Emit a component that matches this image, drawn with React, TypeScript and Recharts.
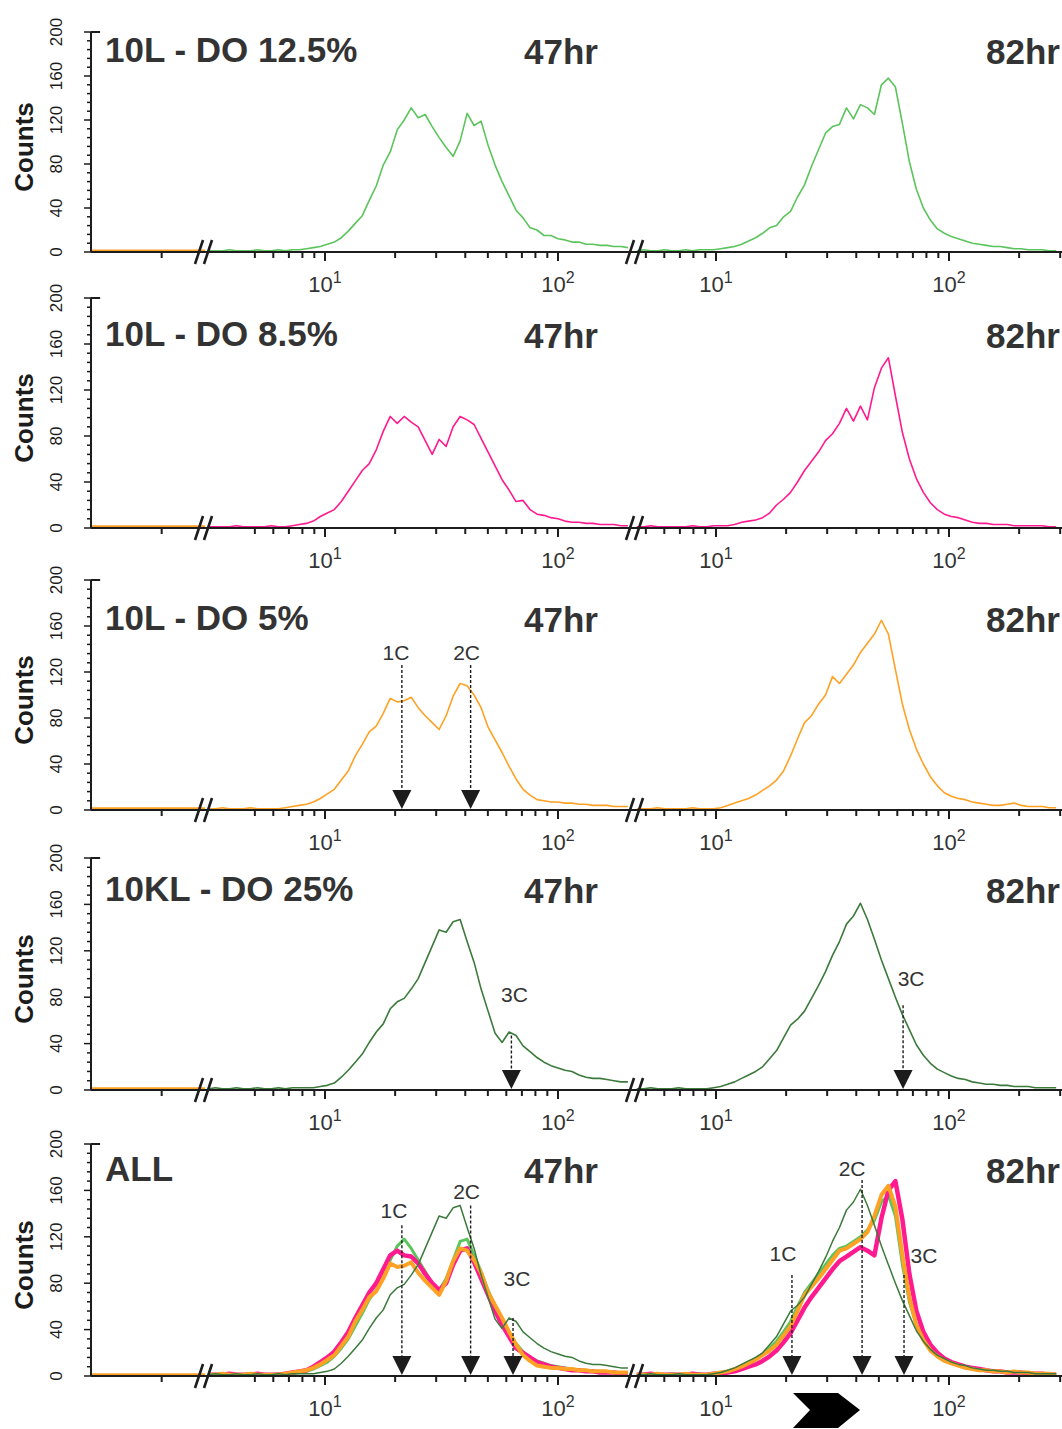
import React from 'react';
import { LineChart, Line, XAxis, YAxis, ReferenceLine, ReferenceDot } from 'recharts';

// ---------- data (x in log10 fluorescence units) ----------
const midGrid = [0.50,0.53,0.56,0.59,0.62,0.65,0.68,0.71,0.74,0.77,0.80,0.83,0.86,0.89,0.92,0.95,0.98,1.01,1.04,1.07,1.10,1.13,1.16,1.19,1.22,1.25,1.28,1.31,1.34,1.37,1.40,1.43,1.46,1.49,1.52,1.55,1.58,1.61,1.64,1.67,1.70,1.73,1.76,1.79,1.82,1.85,1.88,1.91,1.94,1.97,2.00,2.03,2.06,2.09,2.12,2.15,2.18,2.21,2.24,2.27,2.30];
const rightGrid = [0.66,0.69,0.72,0.75,0.78,0.81,0.84,0.87,0.90,0.93,0.96,0.99,1.02,1.05,1.08,1.11,1.14,1.17,1.20,1.23,1.26,1.29,1.32,1.35,1.38,1.41,1.44,1.47,1.50,1.53,1.56,1.59,1.62,1.65,1.68,1.71,1.74,1.77,1.80,1.83,1.86,1.89,1.92,1.95,1.98,2.01,2.04,2.07,2.10,2.13,2.16,2.19,2.22,2.25,2.28,2.31,2.34,2.37,2.40,2.43,2.46];

// 10L - DO 12.5% (light green)
const do125_47 = [1,1,1,2,1,1,1,2,1,1,2,1, 2,2,3,4,5,7,9,13,19,26, 33,47,60,79,91,111,120,131,122,125, 114,104,95,87,101,126,115,119,97,79, 64,51,38,31,22,20,15,15,12,11, 9,9,7,7,6,6,5,5,4];
const do125_82 = [1,2,1,1,2,1,1,2,1, 2,2,2,3,4,5,7,10,13,17, 22,24,32,37,50,61,78,93,108,114, 116,131,121,134,131,125,152,158,150,117, 82,57,40,29,21,17,14,12,10,8, 7,6,5,5,4,3,3,2,2,2,1,1];
// 10L - DO 8.5% (pink)
const do85_47 = [1,1,1,1,2,1,1,1,1,2,1,1, 2,3,4,6,10,13,16,23,32,41, 50,56,68,84,97,91,97,92,88,76, 64,77,71,88,97,94,90,78,66,54, 42,33,23,24,16,12,11,9,8,6, 5,5,4,4,3,3,3,2,2];
const do85_82 = [1,1,2,1,1,1,1,1,2,1,1,2, 2,2,3,5,6,7,9,13,20,25, 31,40,50,58,66,76,82,91,104,93, 106,94,122,139,148,115,83,60,43,31, 22,16,12,10,9,7,5,4,4,3, 3,3,2,2,2,2,2,1,1];
// 10L - DO 5% (orange)
const do5_47 = [1,1,2,1,1,1,2,1,1,1,1, 2,3,4,5,7,10,14,18,26,34, 47,57,68,73,84,97,94,95,98,89, 82,76,70,82,99,110,108,100,89,72, 61,50,38,27,18,13,9,8,7,7, 6,6,5,5,4,4,4,3,3,3];
const do5_82 = [1,1,1,2,1,1,1,1,2,1,1,1, 2,4,6,8,10,13,17,21,26,34, 47,62,76,82,92,100,116,110,118,126, 137,145,153,165,153,122,92,70,53,40, 29,21,15,12,10,9,7,6,5,4, 4,5,6,4,3,3,3,2,2];
// 10KL - DO 25% (dark green)
const kl25_47 = [1,2,1,1,2,1,1,2,1,1,2,1,2,2, 2,2,3,4,6,11,17,24, 31,41,50,57,70,76,79,87,96,110, 124,138,136,145,147,128,110,87,68,49, 41,50,47,38,33,28,24,21,19,17, 16,13,11,10,10,9,8,7,7];
const kl25_82 = [1,1,2,1,1,1,2,1,1,1,1, 2,3,5,7,10,13,16,20,27,34, 45,56,61,68,79,90,102,116,128,143, 150,161,147,130,112,96,80,65,52,39, 30,23,18,15,12,10,9,7,6,5, 5,4,4,3,3,3,2,2,2,2];

// "ALL" overlay panel: curves as drawn there
const allLight_47 = [1,1,2,1,1,1,1,2,1,1,2,1, 2,3,4,6,9,12,17,24,32,43, 54,66,74,88,100,112,118,110,100,90, 80,74,84,100,116,118,104,90,74,60, 48,38,28,21,16,13,11,9,8,7, 6,5,5,4,4,3,3,3,2];
const allLight_82 = [1,2,1,1,1,2,1,1,1,2,1,1, 3,4,6,9,12,15,19,24,30,38, 47,60,72,80,88,96,104,110,112,116, 120,126,134,150,156,138,96,64,44,32, 24,18,14,11,9,8,7,6,5,4, 4,3,3,3,2,2,2,2,1];
const allPink_47 = [1,1,1,2,1,1,1,2,1,1,1,2, 3,4,5,8,12,16,21,29,38,50, 61,72,80,92,104,108,104,103,97,88, 80,74,80,96,108,110,98,84,70,56, 44,34,24,20,16,12,10,8,7,6, 5,5,4,4,3,3,3,2,2];
const allPink_82 = [1,1,2,1,1,1,1,1,2,1,1,2, 2,3,4,6,8,10,13,17,22,29, 37,48,59,68,76,84,92,99,103,107, 111,108,104,136,160,168,135,88,56,38, 27,20,15,12,10,8,7,6,5,4, 4,3,3,3,2,2,2,1,1];
const allOrange_82 = [1,1,1,2,1,1,1,2,1,1,1,2, 3,4,6,8,11,14,18,22,27,35, 43,56,70,77,84,92,100,108,110,114, 118,124,138,156,164,146,104,68,44,31, 22,17,13,11,9,7,6,5,5,4, 4,3,4,3,3,2,2,2,1];

// left (off-scale) segment: flat zero bins
const leftX = [0, 1];
const leftY = [1, 1];

const yTicks = [0,8,16,24,32,40,48,56,64,72,80,88,96,104,112,120,128,136,144,152,160,168,176,184,192,200];
const midTickValues = [5,6,7,8,9,10,20,30,40,50,60,70,80,90,100];
const rightTickValues = [5,6,7,8,9,10,20,30,40,50,60,70,80,90,100,200,300];

// ---------- styling / layout ----------
const FONT = '"Liberation Sans", Arial, Helvetica, sans-serif';
const INK = '#1c1c1c';
const TXT = '#333333';
const C_LIGHT = '#5cc45c';
const C_PINK = '#ff1a8f';
const C_ORANGE = '#ffa124';
const C_DARK = '#3c7a3c';

const MT = 30;
const XH = 46;
const SEG_A = { left: 0, width: 205 };
const SEG_B = { left: 205, width: 430, domain: [0.485, 2.3305] as [number, number] };
const SEG_C = { left: 635, width: 427, domain: [0.6524, 2.485] as [number, number] };

type Seg = 'mid' | 'right';
type Mark = { seg: Seg; x: number; label: string; labelY: number; lineTop: number; dx: number };
type SeriesDef = { key: string; mid: number[]; right: number[]; color: string; width: number };
type PanelDef = { title: string; top: number; base: number; titleBase: number; series: SeriesDef[]; marks: Mark[] };

const panels: PanelDef[] = [
  { title: '10L - DO 12.5%', top: 32, base: 252, titleBase: 62,
    series: [{ key: 'light', mid: do125_47, right: do125_82, color: C_LIGHT, width: 1.6 }], marks: [] },
  { title: '10L - DO 8.5%', top: 298, base: 528, titleBase: 346,
    series: [{ key: 'pink', mid: do85_47, right: do85_82, color: C_PINK, width: 1.6 }], marks: [] },
  {
    title: '10L - DO 5%', top: 580, base: 810, titleBase: 630,
    series: [{ key: 'orange', mid: do5_47, right: do5_82, color: C_ORANGE, width: 1.6 }],
    marks: [
      { seg: 'mid', x: 1.33, label: '1C', labelY: 137, lineTop: 126, dx: -6 },
      { seg: 'mid', x: 1.625, label: '2C', labelY: 137, lineTop: 126, dx: -4 },
    ],
  },
  {
    title: '10KL - DO 25%', top: 858, base: 1090, titleBase: 901,
    series: [{ key: 'dark', mid: kl25_47, right: kl25_82, color: C_DARK, width: 1.6 }],
    marks: [
      { seg: 'mid', x: 1.80, label: '3C', labelY: 82, lineTop: 47, dx: 3 },
      { seg: 'right', x: 1.803, label: '3C', labelY: 96, lineTop: 73, dx: 8 },
    ],
  },
  {
    title: 'ALL', top: 1144, base: 1376, titleBase: 1181,
    series: [
      { key: 'light', mid: allLight_47, right: allLight_82, color: C_LIGHT, width: 3 },
      { key: 'pink', mid: allPink_47, right: allPink_82, color: C_PINK, width: 4.5 },
      { key: 'orange', mid: do5_47, right: allOrange_82, color: C_ORANGE, width: 4 },
      { key: 'dark', mid: kl25_47, right: kl25_82, color: C_DARK, width: 1.5 },
    ],
    marks: [
      { seg: 'mid', x: 1.33, label: '1C', labelY: 143, lineTop: 130, dx: -8 },
      { seg: 'mid', x: 1.625, label: '2C', labelY: 159, lineTop: 147, dx: -4 },
      { seg: 'mid', x: 1.807, label: '3C', labelY: 84, lineTop: 50, dx: 4 },
      { seg: 'right', x: 1.326, label: '1C', labelY: 106, lineTop: 87, dx: -9 },
      { seg: 'right', x: 1.627, label: '2C', labelY: 179, lineTop: 169, dx: -10 },
      { seg: 'right', x: 1.807, label: '3C', labelY: 104, lineTop: 87, dx: 20 },
    ],
  },
];

// ---------- ticks ----------
const renderXTick = (props: any) => {
  const { x, y, payload } = props;
  const v = Math.round(Math.pow(10, payload.value));
  const major = v === 10 || v === 100;
  return (
    <g>
      <line x1={x} x2={x} y1={y} y2={y + (major ? 9 : 6)} stroke={INK} strokeWidth={2} />
      {major && (
        <text x={x} y={y + 40} textAnchor="middle" fontFamily={FONT} fontSize={22} fill={TXT}>
          10<tspan fontSize={16} dy={-9}>{v === 10 ? '1' : '2'}</tspan>
        </text>
      )}
    </g>
  );
};

const renderPlainTick = (props: any) => {
  const { x, y } = props;
  return <line x1={x} x2={x} y1={y} y2={y + 6} stroke={INK} strokeWidth={2} />;
};

const renderYTick = (props: any) => {
  const { x, y, payload } = props;
  const v = payload.value;
  const major = v % 40 === 0;
  return (
    <g>
      <line x1={x - (major ? 7 : 4)} x2={x} y1={y} y2={y} stroke={INK} strokeWidth={1.5} />
      {major && (
        <text transform={`translate(${x - 29},${y}) rotate(-90)`} textAnchor="middle" fontFamily={FONT} fontSize={17} fill={INK}>
          {v}
        </text>
      )}
    </g>
  );
};

const arrowHead = (p: any) => (
  <path d={`M${p.cx - 9.5},${p.cy - 20} L${p.cx + 9.5},${p.cy - 20} L${p.cx},${p.cy - 1} Z`} fill={INK} />
);
const markLabel = (text: string, dx: number) => (p: any) => (
  <text x={p.cx + dx} y={p.cy} textAnchor="middle" dominantBaseline="central" fontFamily={FONT} fontSize={21} fill={TXT}>
    {text}
  </text>
);

// ---------- segments ----------
function LeftSegment({ panel }: { panel: PanelDef }) {
  const height = MT + (panel.base - panel.top) + XH;
  const rows = leftX.map((x, i) => ({ x, y: leftY[i] }));
  return (
    <div style={{ position: 'absolute', left: SEG_A.left, top: panel.top - MT, width: SEG_A.width, height }}>
      <LineChart width={SEG_A.width} height={height} data={rows} margin={{ top: MT, right: 0, bottom: 0, left: 0 }}>
        <XAxis dataKey="x" type="number" domain={[0, 1]} ticks={[0.62]} interval={0} tickSize={0} tickMargin={0}
          tickLine={false} tick={renderPlainTick} axisLine={{ stroke: INK, strokeWidth: 2 }} height={XH} />
        <YAxis width={91} domain={[0, 200]} ticks={yTicks} interval={0} tickSize={0} tickMargin={0}
          tickLine={false} tick={renderYTick} axisLine={{ stroke: INK, strokeWidth: 2 }} />
        <ReferenceLine segment={[{ x: 0, y: 200 }, { x: 0.08, y: 200 }]} stroke={INK} strokeWidth={2} ifOverflow="visible" />
        <Line type="linear" dataKey="y" stroke={C_ORANGE} strokeWidth={3} dot={false} isAnimationActive={false} />
      </LineChart>
    </div>
  );
}

function LogSegment({ panel, seg }: { panel: PanelDef; seg: Seg }) {
  const box = seg === 'mid' ? SEG_B : SEG_C;
  const grid = seg === 'mid' ? midGrid : rightGrid;
  const ticks = (seg === 'mid' ? midTickValues : rightTickValues).map((v) => Math.log10(v));
  const rows = grid.map((x, i) => {
    const r: Record<string, number> = { x };
    panel.series.forEach((s) => {
      r[s.key] = (seg === 'mid' ? s.mid : s.right)[i];
    });
    return r;
  });
  const height = MT + (panel.base - panel.top) + XH;
  const marks = panel.marks.filter((m) => m.seg === seg);
  return (
    <div style={{ position: 'absolute', left: box.left, top: panel.top - MT, width: box.width, height }}>
      <LineChart width={box.width} height={height} data={rows} margin={{ top: MT, right: 0, bottom: 0, left: 0 }}>
        <XAxis dataKey="x" type="number" domain={box.domain} allowDataOverflow ticks={ticks} interval={0}
          tickSize={0} tickMargin={0} tickLine={false} tick={renderXTick} axisLine={{ stroke: INK, strokeWidth: 2 }} height={XH} />
        <YAxis hide domain={[0, 200]} allowDataOverflow />
        {panel.series.map((s) => (
          <Line key={s.key} type="linear" dataKey={s.key} stroke={s.color} strokeWidth={s.width}
            strokeLinejoin="round" dot={false} isAnimationActive={false} />
        ))}
        {marks.map((m, i) => (
          <ReferenceLine key={'l' + i} segment={[{ x: m.x, y: m.lineTop }, { x: m.x, y: 8 }]} stroke={INK}
            strokeWidth={1.4} strokeDasharray="3 2" ifOverflow="visible" />
        ))}
        {marks.map((m, i) => (
          <ReferenceDot key={'a' + i} x={m.x} y={0} r={1} shape={arrowHead} ifOverflow="visible" />
        ))}
        {marks.map((m, i) => (
          <ReferenceDot key={'t' + i} x={m.x} y={m.labelY} r={1} shape={markLabel(m.label, m.dx)} ifOverflow="visible" />
        ))}
      </LineChart>
    </div>
  );
}

function BreakMark({ cx, cy }: { cx: number; cy: number }) {
  return (
    <g stroke={INK} strokeWidth={2.6} strokeLinecap="butt">
      <line x1={cx - 10} y1={cy + 12} x2={cx - 2} y2={cy - 12} />
      <line x1={cx - 1} y1={cy + 12} x2={cx + 7} y2={cy - 12} />
    </g>
  );
}

export default function App() {
  return (
    <div style={{ position: 'absolute', left: 0, top: 0, width: 1062, height: 1429, background: '#ffffff', overflow: 'hidden' }}>
      {panels.map((p, i) => (
        <React.Fragment key={i}>
          <LeftSegment panel={p} />
          <LogSegment panel={p} seg="mid" />
          <LogSegment panel={p} seg="right" />
        </React.Fragment>
      ))}
      <svg width={1062} height={1429} style={{ position: 'absolute', left: 0, top: 0, pointerEvents: 'none' }}>
        {panels.map((p, i) => (
          <g key={i}>
            <text x={105} y={p.titleBase} fontFamily={FONT} fontWeight="bold" fontSize={35} fill={TXT}>{p.title}</text>
            <text x={598} y={p.titleBase + 2} textAnchor="end" fontFamily={FONT} fontWeight="bold" fontSize={35} fill={TXT}>47hr</text>
            <text x={1060} y={p.titleBase + 2} textAnchor="end" fontFamily={FONT} fontWeight="bold" fontSize={35} fill={TXT}>82hr</text>
            <text transform={`translate(33,${(p.top + p.base) / 2 + 5}) rotate(-90)`} textAnchor="middle"
              fontFamily={FONT} fontWeight="bold" fontSize={26} fill={INK}>Counts</text>
            <BreakMark cx={205} cy={p.base} />
            <BreakMark cx={636} cy={p.base} />
          </g>
        ))}
        <polygon points="793,1393 838,1393 860,1410 838,1428 793,1428 810,1410" fill="#000" />
      </svg>
    </div>
  );
}
